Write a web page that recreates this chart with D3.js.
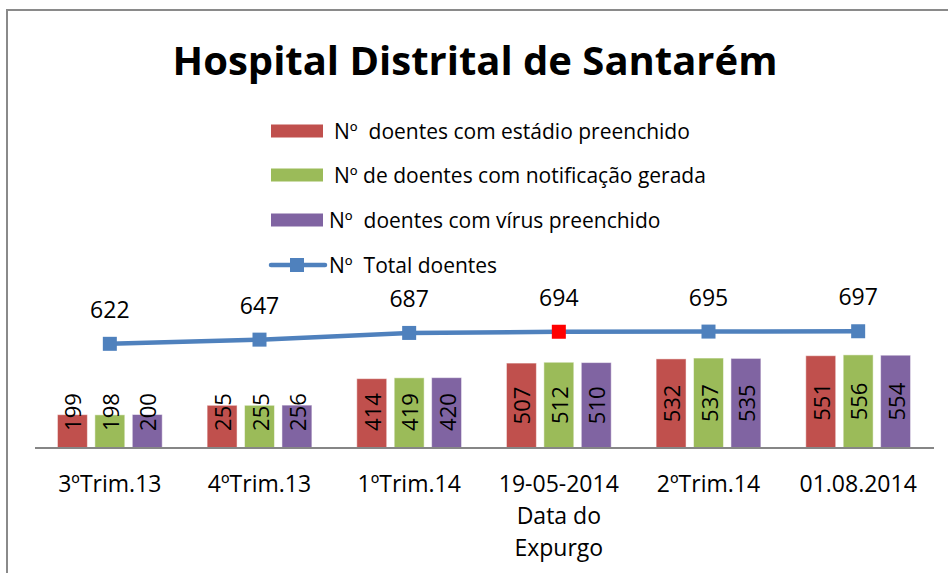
<!DOCTYPE html>
<html>
<head>
<meta charset="utf-8">
<script src="https://cdn.jsdelivr.net/npm/d3@7"></script>
<style>
  body { margin: 0; background: #fff; }
  text { font-family: "Open Sans", sans-serif; white-space: pre; }
</style>
</head>
<body>
<svg id="chart"></svg>
<script>
const svgWidth = 948;
const svgHeight = 573;

// data
const categories = ["3ºTrim.13", "4ºTrim.13", "1ºTrim.14", "19-05-2014\nData do\nExpurgo", "2ºTrim.14", "01.08.2014"];
const seriesNames = ["Nº  doentes com estádio preenchido", "Nº de doentes com notificação gerada", "Nº  doentes com vírus preenchido"];
const estadio = [199, 255, 414, 507, 532, 551];
const notificacao = [198, 255, 419, 512, 537, 556];
const virus = [200, 256, 420, 510, 535, 554];
const totalName = "Nº  Total doentes";
const total = [622, 647, 687, 694, 695, 697];
const highlightIndex = 3; // red marker on 19-05-2014

const barColors = ["#C0504D", "#9BBB59", "#8064A2"];
const lineColor = "#4F81BD";
const barSeries = [estadio, notificacao, virus];

const svg = d3.select("#chart")
	.attr("width", svgWidth)
	.attr("height", svgHeight);

// outer frame
svg.append("rect")
	.attr("x", 7).attr("y", 10)
	.attr("width", 980).attr("height", 620)
	.attr("fill", "none")
	.attr("stroke", "#8a8a8a")
	.attr("stroke-width", 2);

// title
svg.append("text")
	.text("Hospital Distrital de Santarém")
	.attr("x", 475).attr("y", 75)
	.attr("text-anchor", "middle")
	.attr("font-size", 40)
	.attr("font-weight", "bold");

const xScale = d3.scaleBand()
	.domain(d3.range(categories.length))
	.range([35, 933]);
const xInner = d3.scaleBand()
	.domain(d3.range(3))
	.range([0, xScale.bandwidth()])
	.paddingInner(0.2)
	.paddingOuter(0.6);
const yScale = d3.scaleLinear()
	.domain([0, 800])
	.range([448, 314]);

// bars
barSeries.forEach((values, s) => {
	let g = svg.append("g");
	g.selectAll("rect")
		.data(values)
		.enter()
		.append("rect")
		.attr("x", (d, i) => xScale(i) + xInner(s))
		.attr("y", d => yScale(d))
		.attr("width", xInner.bandwidth())
		.attr("height", d => yScale(0) - yScale(d))
		.attr("fill", barColors[s])
		.attr("stroke", "#fff")
		.attr("stroke-opacity", 0.5)
		.attr("stroke-width", 1);
	// rotated value labels
	g.selectAll("text")
		.data(values)
		.enter()
		.append("text")
		.text(d => d)
		.attr("transform", (d, i) => {
			let cx = xScale(i) + xInner(s) + xInner.bandwidth() / 2;
			let cy = Math.min((yScale(d) + yScale(0)) / 2, yScale(0) - 36);
			return `translate(${cx},${cy}) rotate(-90)`;
		})
		.attr("text-anchor", "middle")
		.attr("dominant-baseline", "central")
		.attr("font-size", 22);
});

// x axis line
svg.append("line")
	.attr("x1", 35).attr("x2", 934)
	.attr("y1", yScale(0)).attr("y2", yScale(0))
	.attr("stroke", "#868686")
	.attr("stroke-width", 2);

// category labels
categories.forEach((c, i) => {
	let t = svg.append("text")
		.attr("text-anchor", "middle")
		.attr("font-size", 23);
	c.split("\n").forEach((line, k) => {
		t.append("tspan")
			.text(line)
			.attr("x", xScale(i) + xScale.bandwidth() / 2)
			.attr("y", 492 + k * 32);
	});
});

// total line
const cx = i => xScale(i) + xScale.bandwidth() / 2;
const line = d3.line()
	.x((d, i) => cx(i))
	.y(d => yScale(d));
svg.append("path")
	.datum(total)
	.attr("d", line)
	.attr("fill", "none")
	.attr("stroke", lineColor)
	.attr("stroke-width", 4.5);
svg.selectAll(".marker")
	.data(total)
	.enter()
	.append("rect")
	.classed("marker", true)
	.attr("x", (d, i) => cx(i) - 7)
	.attr("y", d => yScale(d) - 7)
	.attr("width", 14).attr("height", 14)
	.attr("fill", (d, i) => i == highlightIndex ? "#FF0000" : lineColor);
svg.selectAll(".totalLabel")
	.data(total)
	.enter()
	.append("text")
	.classed("totalLabel", true)
	.text(d => d)
	.attr("x", (d, i) => cx(i))
	.attr("y", d => yScale(d) - 26)
	.attr("text-anchor", "middle")
	.attr("font-size", 23);

// legend
const legendRows = [131, 175, 220, 265];
seriesNames.forEach((name, s) => {
	svg.append("rect")
		.attr("x", 271).attr("y", legendRows[s] - 6.5)
		.attr("width", 52).attr("height", 13)
		.attr("fill", barColors[s]);
	svg.append("text")
		.text(name)
		.attr("x", s == 2 ? 329 : 334)
		.attr("y", legendRows[s])
		.attr("dominant-baseline", "central")
		.attr("font-size", 21);
});
svg.append("line")
	.attr("x1", 271).attr("x2", 325)
	.attr("y1", legendRows[3]).attr("y2", legendRows[3])
	.attr("stroke", lineColor)
	.attr("stroke-width", 4.5)
	.attr("stroke-linecap", "round");
svg.append("rect")
	.attr("x", 290).attr("y", legendRows[3] - 7)
	.attr("width", 14).attr("height", 14)
	.attr("fill", lineColor);
svg.append("text")
	.text(totalName)
	.attr("x", 329)
	.attr("y", legendRows[3])
	.attr("dominant-baseline", "central")
	.attr("font-size", 21);
</script>
</body>
</html>
